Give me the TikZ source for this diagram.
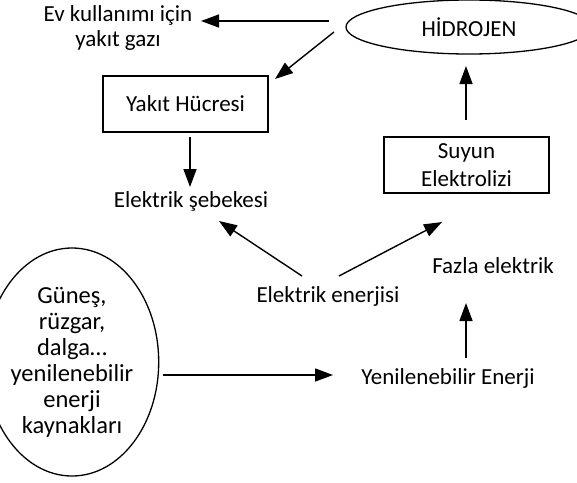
\documentclass[tikz,border=0pt]{standalone}
\usepackage{fontspec}
\setmainfont{Carlito}
\usetikzlibrary{arrows.meta,shapes.geometric}
\begin{document}
\begin{tikzpicture}[x=1pt,y=-1pt,
  lbl/.style={font=\fontsize{23}{26}\selectfont, align=center, inner sep=0pt},
  box/.style={draw, line width=1.3pt, minimum width=165pt, minimum height=56pt,
              font=\fontsize{23}{28}\selectfont, align=center, inner sep=0pt},
  oval/.style={ellipse, draw, line width=1.3pt, inner sep=0pt, align=center},
  arr/.style={line width=1.4pt, -{Triangle[length=18pt,width=13pt]}}]
\useasboundingbox (0,0) rectangle (577,482);

% nodes
\node[oval, minimum width=246pt, minimum height=54pt, font=\fontsize{23}{27}\selectfont] (hid) at (469,27) {HİDROJEN};
\node[lbl, font=\fontsize{23}{25}\selectfont] (ev) at (118,28) {Ev kullanımı için\\yakıt gazı};
\node[box] (yh) at (185.5,104) {Yakıt Hücresi};
\node[lbl] (seb) at (191,201) {Elektrik şebekesi};
\node[box] (su) at (466.5,165) {Suyun\\Elektrolizi};
\node[lbl] (ee) at (328,296) {Elektrik enerjisi};
\node[lbl] (fe) at (493,266) {Fazla elektrik};
\node[lbl] (ye) at (448,378) {Yenilenebilir Enerji};
\node[oval, minimum width=120pt, minimum height=228pt, font=\fontsize{24.5}{26}\selectfont] (kay) at (72,362)
  {Güneş,\\rüzgar,\\dalga…\\yenilenebilir\\enerji\\kaynakları};

% connector end points
\coordinate (hidL) at (329,21);
\coordinate (evR) at (201,21);
\coordinate (hidD) at (334,32);
\coordinate (yhC) at (275,79);
\coordinate (yhB) at (190,137);
\coordinate (sebT) at (190,187);
\coordinate (eeL) at (302,276);
\coordinate (sebB) at (219,221);
\coordinate (eeR) at (339,276);
\coordinate (suB) at (442,222);
\coordinate (suT) at (466,120);
\coordinate (hidB) at (466,66);
\coordinate (yeT) at (466,358);
\coordinate (feB) at (466,303);
\coordinate (kayR) at (163,375);
\coordinate (yeL) at (333,375);

% connectors
\draw[arr] (hidL) -- (evR);
\draw[arr] (hidD) -- (yhC);
\draw[arr] (yhB) -- (sebT);
\draw[arr] (eeL) -- (sebB);
\draw[arr] (eeR) -- (suB);
\draw[arr] (suT) -- (hidB);
\draw[arr] (yeT) -- (feB);
\draw[arr] (kayR) -- (yeL);
\end{tikzpicture}
\end{document}
